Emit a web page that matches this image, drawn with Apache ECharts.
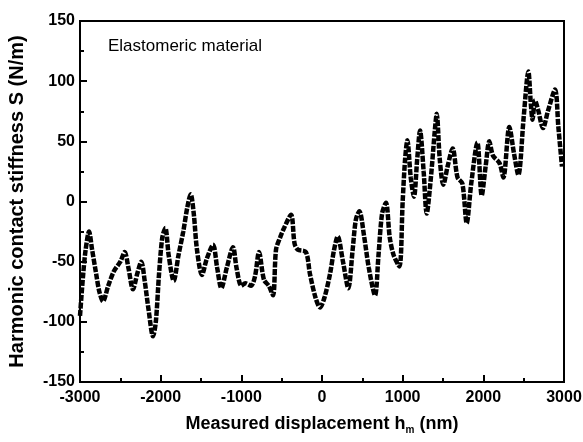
<!DOCTYPE html>
<html>
<head>
<meta charset="utf-8">
<script src="https://cdn.jsdelivr.net/npm/echarts@6/dist/echarts.min.js"></script>
<style>html,body{margin:0;padding:0;background:#fff}#c{width:583px;height:442px}</style>
</head>
<body>
<div id="c"></div>
<script>
const xValues = [-3000,-2960,-2930,-2888,-2850,-2800,-2760,-2715,-2650,-2580,-2500,-2446,-2400,-2343,-2290,-2240,-2200,-2150,-2095,-2060,-2020,-1980,-1942,-1900,-1838,-1780,-1720,-1670,-1628,-1590,-1550,-1488,-1430,-1351,-1300,-1248,-1180,-1103,-1060,-1000,-950,-880,-830,-781,-720,-660,-607,-570,-520,-470,-384,-340,-300,-200,-150,-80,-25,30,100,150,195,260,326,380,420,463,520,580,657,700,745,793,840,890,959,1000,1030,1058,1100,1140,1180,1215,1260,1298,1350,1400,1422,1460,1504,1560,1620,1680,1740,1794,1850,1926,1980,2030,2074,2120,2200,2248,2322,2380,2434,2500,2558,2590,2610,2640,2680,2740,2800,2889,2930,2975];
const stiffness = [-95,-60,-40,-25,-40,-60,-75,-83,-70,-58,-50,-42,-55,-73,-60,-50,-65,-90,-112,-100,-60,-30,-22,-45,-66,-45,-25,-5,6,-10,-40,-61,-48,-36,-55,-72,-55,-38,-55,-70,-68,-70,-62,-42,-65,-70,-78,-40,-30,-22,-11,-35,-40,-42,-60,-80,-88,-80,-60,-40,-29,-50,-72,-40,-15,-8,-28,-55,-78,-45,-10,-1,-30,-45,-54,0,35,51,20,4,35,59,25,-10,20,60,73,35,14,30,44,20,15,-18,15,49,5,30,50,38,32,20,62,40,22,70,108,80,68,84,76,61,75,93,62,29];
const xTicks = {min:-3000, max:3000, step:1000};
const yTicks = {min:-150, max:150, step:50};
const xTitle = 'Measured displacement h';
const xSub = 'm';
const xUnit = ' (nm)';
const yTitle = 'Harmonic contact stiffness S (N/m)';
const note = 'Elastomeric material';

const FONT = '"Liberation Sans", Arial, Helvetica, sans-serif';
const chart = echarts.init(document.getElementById('c'));
const axisCommon = {
  axisLine:{show:true, onZero:false, lineStyle:{color:'#000', width:2}},
  axisTick:{show:true, inside:true, length:7, lineStyle:{color:'#000', width:2}},
  minorTick:{show:true, splitNumber:2, length:4, lineStyle:{color:'#000', width:2}},
  splitLine:{show:false},
  axisLabel:{color:'#000', fontSize:16, fontWeight:'bold', fontFamily:FONT, formatter:v => String(v)}
};
chart.setOption({
  animation:false,
  backgroundColor:'#fff',
  grid:{left:80, right:19, top:21, bottom:60, show:true, borderColor:'#000', borderWidth:2, backgroundColor:'transparent', containLabel:false, outerBoundsMode:'none'},
  xAxis:Object.assign({}, axisCommon, {
    type:'value', min:xTicks.min, max:xTicks.max, interval:xTicks.step,
    axisLabel:Object.assign({}, axisCommon.axisLabel, {margin:8}),
    name:'{b|' + xTitle + '}{s|' + xSub + '}{b|' + xUnit + '}',
    nameLocation:'middle', nameGap:31,
    nameTextStyle:{rich:{
      b:{fontSize:18, fontWeight:'bold', fontFamily:FONT, color:'#000'},
      s:{fontSize:10, fontWeight:'bold', fontFamily:FONT, color:'#000', padding:[12,0,0,0]}
    }}
  }),
  yAxis:Object.assign({}, axisCommon, {
    type:'value', min:yTicks.min, max:yTicks.max, interval:yTicks.step,
    axisLabel:Object.assign({}, axisCommon.axisLabel, {margin:5}),
    name:yTitle, nameLocation:'middle', nameGap:53,
    nameTextStyle:{fontSize:20, fontWeight:'bold', fontFamily:FONT, color:'#000'}
  }),
  graphic:[{type:'text', left:108, top:38, style:{text:note, fontSize:17, fontFamily:FONT, fill:'#000'}}],
  series:[{
    type:'line', data:xValues.map((x,i)=>[x, stiffness[i]]),
    showSymbol:false, smooth:0.3,
    lineStyle:{color:'#000', width:4.5, type:[6,1.5]}
  }]
});
</script>
</body>
</html>
